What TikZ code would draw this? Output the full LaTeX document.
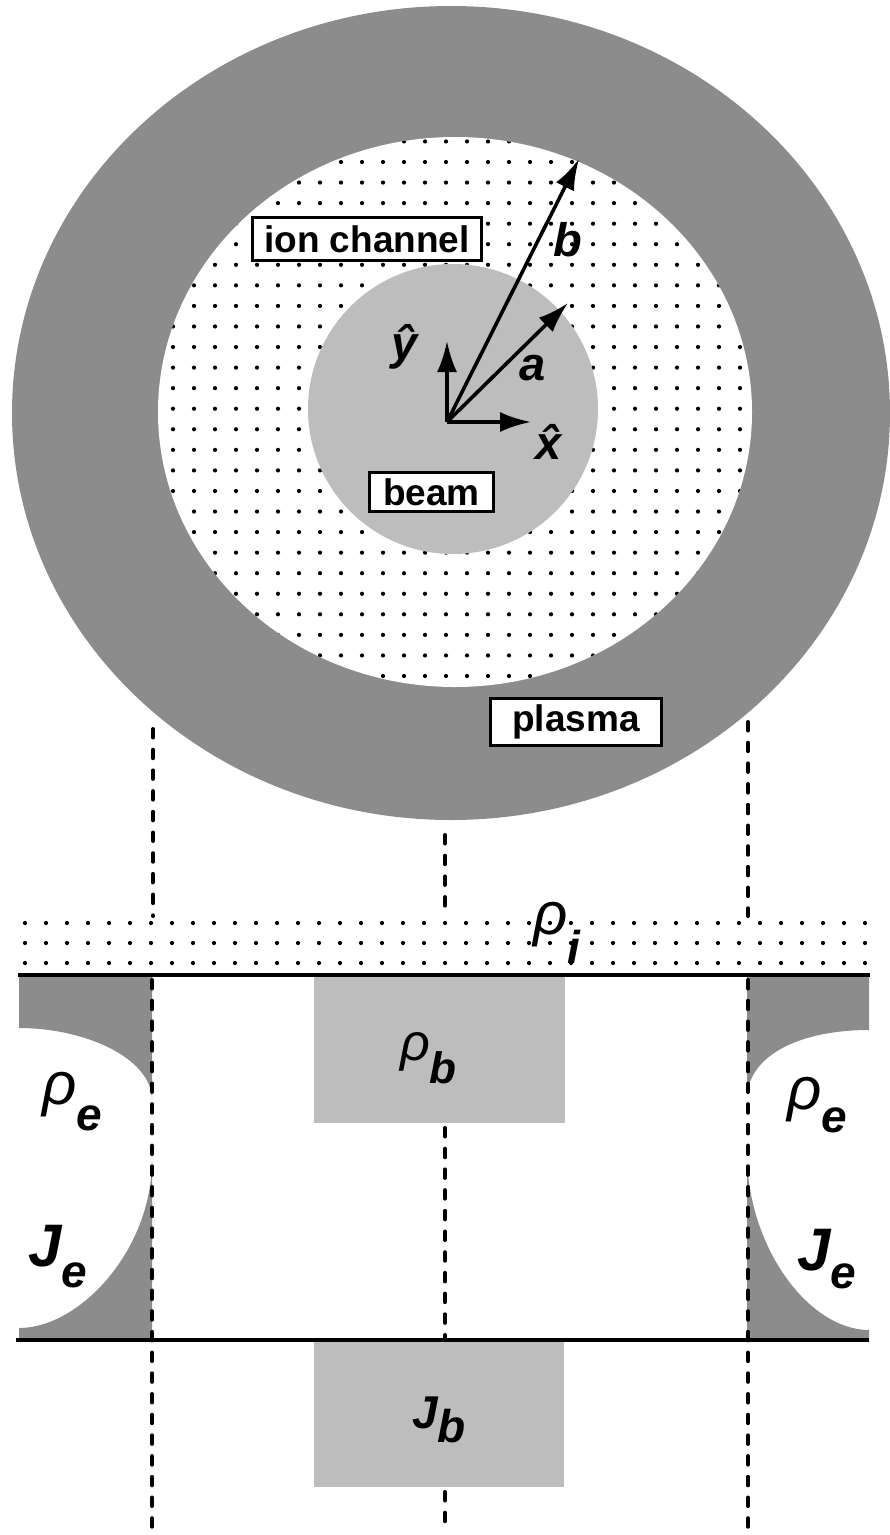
\documentclass[tikz,border=0pt]{standalone}
\usepackage{fontspec}
\setmainfont{Liberation Sans}
\newfontfamily\lab{Liberation Sans}
\usetikzlibrary{arrows.meta}
\definecolor{plasmagray}{gray}{0.55}
\definecolor{beamgray}{gray}{0.74}
\newcommand\rhosub[4]{{\fontsize{#1}{#1}\lab\itshape ρ}\raisebox{-#3}{\fontsize{#2}{#2}\lab\bfseries\itshape #4}}
\newcommand\jsub[4]{{\fontsize{#1}{#1}\lab\bfseries\itshape J}\raisebox{-#3}{\fontsize{#2}{#2}\lab\bfseries\itshape #4}}
\tikzset{
  labbox/.style={draw, line width=3.5pt, fill=white, inner sep=0pt, font=\fontsize{37}{37}\selectfont\bfseries},
  vec/.style={line width=3.6pt, -{Latex[length=31pt,width=20pt]}},
  proj/.style={line width=4pt, line cap=round, dash pattern=on 8.5pt off 12.2pt},
  rule/.style={line width=3.5pt},
  mlab/.style={inner sep=0pt, font=\fontsize{47}{47}\selectfont\bfseries\itshape},
  slab/.style={inner sep=0pt, anchor=base west},
}
\begin{document}
\begin{tikzpicture}[x=1pt,y=-1pt]
\useasboundingbox (0,0) rectangle (890,1535);
% ---------- cross-section ----------
\fill[plasmagray] (451,413) ellipse [x radius=439pt, y radius=407pt];
\fill[white] (455,412) ellipse [x radius=297pt, y radius=275pt];
\begin{scope}
  \clip (455,412) ellipse [x radius=297pt, y radius=275pt];
  \foreach \i in {-1,...,28}
    \foreach \j in {-1,...,25}
      \fill ({173+21*\i},{162+20.56*\j}) circle [radius=2.1pt];
\end{scope}
\fill[beamgray] (453,409) circle [radius=145pt];
% labels in boxes
\node[labbox, minimum width=229pt, minimum height=43pt] (ionlbl) at (367,239) {ion channel};
\node[labbox, minimum width=124pt, minimum height=39pt] (beamlbl) at (431.5,492) {beam};
\node[labbox, minimum width=171pt, minimum height=47pt] (plasmalbl) at (576,722) {plasma};
% vectors
\coordinate (o) at (447,422);
\coordinate (xt) at (531,422);
\coordinate (yt) at (447,341);
\coordinate (at) at (568,303);
\coordinate (bt) at (579,159);
\draw[vec] (o) -- (xt);
\draw[vec] (o) -- (yt);
\draw[vec] (o) -- (at);
\draw[vec] (o) -- (bt);
\node[mlab] (blab) at (568,240) {b};
\node[mlab] (alab) at (533,368) {a};
\node[mlab] (xlab) at (549,442) {\^{x}};
\node[mlab] (ylab) at (405,347) {ŷ};
% ---------- profiles ----------
\foreach \i in {0,...,40}
  \foreach \y in {923,943,963}
    \fill ({25+21*\i},\y) circle [radius=2.1pt];
% plasma electrons, left
\fill[plasmagray] (19,975) -- (152,975) -- (152,1100)
  .. controls (152,1058) and (85,1028) .. (19,1028) -- cycle;
\fill[plasmagray] (152,1160) .. controls (152,1250) and (80,1328) .. (19,1328)
  -- (19,1340) -- (152,1340) -- cycle;
% plasma electrons, right
\fill[plasmagray] (869,975) -- (747,975) -- (747,1097)
  .. controls (749,1055) and (800,1030) .. (869,1030) -- cycle;
\fill[plasmagray] (747,1157) .. controls (749,1250) and (810,1330) .. (869,1330)
  -- (869,1340) -- (747,1340) -- cycle;
% beam
\fill[beamgray] (314,976) rectangle (565,1123);
\fill[beamgray] (314,1340) rectangle (564,1487);
% axes lines
\coordinate (t1) at (18,975);
\coordinate (t2) at (870,975);
\coordinate (u1) at (16,1340);
\coordinate (u2) at (869,1340);
\draw[rule] (t1) -- (t2);
\draw[rule] (u1) -- (u2);
% projection lines
\coordinate (la) at (153,729);
\coordinate (lb) at (153,916);
\coordinate (lc) at (152,980);
\coordinate (ld) at (152,1533);
\coordinate (ca) at (445,835);
\coordinate (cb) at (445,916);
\coordinate (cc) at (445,1128);
\coordinate (cd) at (445,1338);
\coordinate (ce) at (445,1492);
\coordinate (cf) at (445,1533);
\coordinate (ra) at (748,722);
\coordinate (rb) at (748,916);
\coordinate (rc) at (748,980);
\coordinate (rd) at (748,1533);
\draw[proj] (la) -- (lb);
\draw[proj] (lc) -- (ld);
\draw[proj] (ca) -- (cb);
\draw[proj] (cc) -- (cd);
\draw[proj] (ce) -- (cf);
\draw[proj] (ra) -- (rb);
\draw[proj] (rc) -- (rd);
% symbols
\node[slab] (rhoi) at (533,934) {\rhosub{60pt}{46pt}{29pt}{i}};
\node[slab] (rhob) at (400,1060) {\rhosub{52pt}{44pt}{23pt}{b}};
\node[slab] (rhoel) at (42,1104) {\rhosub{60pt}{46pt}{26pt}{e}};
\node[slab] (rhoer) at (787,1109) {\rhosub{60pt}{46pt}{23pt}{e}};
\node[slab] (jel) at (28,1266) {\jsub{60pt}{46pt}{21pt}{e}};
\node[slab] (jer) at (797,1270) {\jsub{60pt}{46pt}{18pt}{e}};
\node[slab] (jb) at (412,1428) {\jsub{46pt}{46pt}{14pt}{b}};
\end{tikzpicture}
\end{document}
